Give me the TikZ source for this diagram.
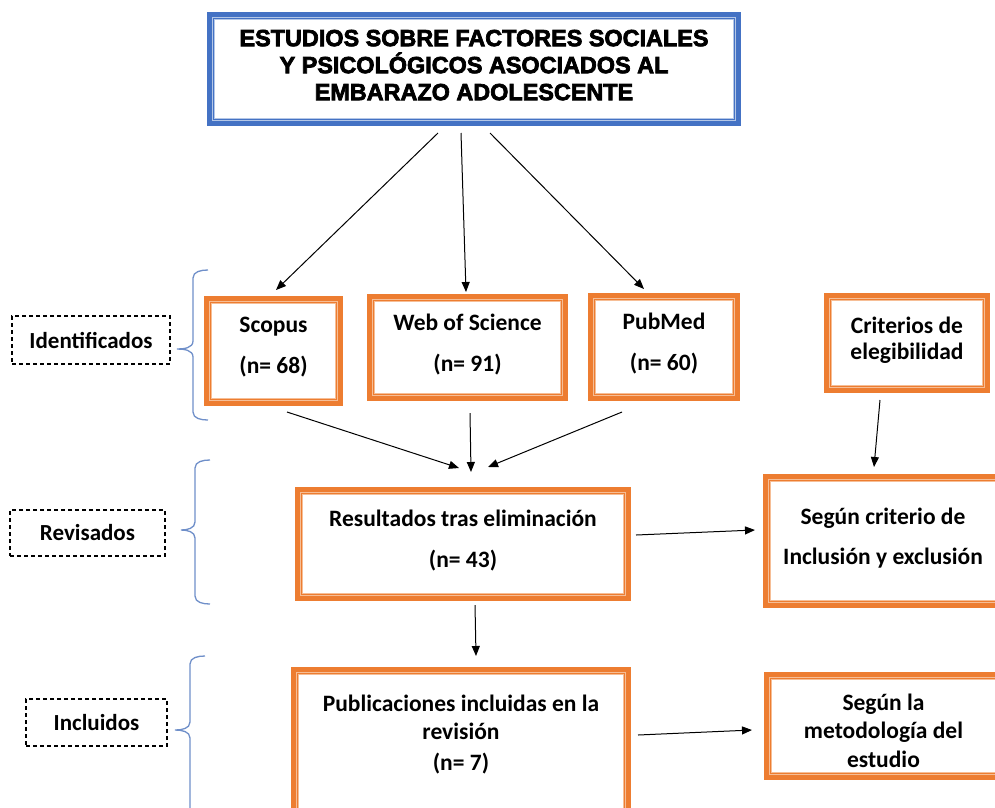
\documentclass[tikz,border=0pt]{standalone}
\usepackage{fontspec}
\setmainfont{Carlito}
\newfontfamily\titlefont[BoldFeatures={FakeBold=3}]{Liberation Sans}
\usetikzlibrary{arrows.meta,calc}
\definecolor{orangeC}{HTML}{ED7D31}
\definecolor{peachC}{HTML}{F6BE96}
\definecolor{blueC}{HTML}{4472C4}
\definecolor{lblueC}{HTML}{B4C7E7}
\definecolor{braceC}{HTML}{6F8FC9}
\newcommand\obdeco[3]{%
  \draw[#2, line width=3pt] ($(#1.north west)+(6.5,6.5)$) rectangle ($(#1.south east)+(-6.5,-6.5)$);
  \draw[#3, line width=1.1pt] ($(#1.north west)+(6.8,6.8)$) rectangle ($(#1.south east)+(-6.8,-6.8)$);}
\tikzset{
  obox/.style={draw=orangeC, line width=5pt, fill=white, align=center, inner sep=0pt,
    font=\bfseries\fontsize{23.5}{26}\selectfont},
  twoline/.style={text depth=10.5pt},
  tbox/.style={draw=blueC, line width=5pt, fill=white, align=center, inner sep=0pt,
    font=\titlefont\bfseries\fontsize{23.4}{27}\selectfont},
  lbox/.style={draw=black, line width=1.1pt, dash pattern=on 4pt off 3pt, align=center, inner sep=0pt,
    font=\bfseries\fontsize{23}{26}\selectfont},
  arr/.style={-{Triangle[length=10pt,width=8pt]}, line width=1pt, black},
  brc/.style={draw=braceC, line width=1.3pt}
}
\begin{document}
\begin{tikzpicture}[x=1pt,y=-1pt]
\useasboundingbox (0,0) rectangle (995,807);
% title
\node[tbox, minimum width=529pt, minimum height=109pt, text depth=8pt] (title) at (474,69)
  {ESTUDIOS SOBRE FACTORES SOCIALES\\Y PSICOLÓGICOS ASOCIADOS AL\\EMBARAZO ADOLESCENTE};
\obdeco{title}{lblueC}{blueC}
% sources
\node[obox, twoline, minimum width=134pt, minimum height=105pt] (scopus) at (273.5,351) {Scopus\\[15pt](n= 68)};
\obdeco{scopus}{peachC}{orangeC}
\node[obox, twoline, minimum width=196pt, minimum height=102pt] (wos) at (467.5,347.5) {Web of Science\\[15pt](n= 91)};
\obdeco{wos}{peachC}{orangeC}
\node[obox, twoline, minimum width=147pt, minimum height=103pt] (pubmed) at (664,347) {PubMed\\[15pt](n= 60)};
\obdeco{pubmed}{peachC}{orangeC}
\node[obox, twoline, minimum width=161pt, minimum height=95pt] (crit) at (907,343) {Criterios de\\elegibilidad};
\obdeco{crit}{peachC}{orangeC}
% revisados
\node[obox, twoline, minimum width=331pt, minimum height=109pt, text depth=11.5pt] (res) at (463,544) {Resultados tras eliminación\\[15pt](n= 43)};
\obdeco{res}{peachC}{orangeC}
\node[obox, twoline, minimum width=235pt, minimum height=129pt, text depth=9.5pt] (segcrit) at (883,541) {Según criterio de\\[14pt]Inclusión y exclusión};
\obdeco{segcrit}{peachC}{orangeC}
% incluidos
\node[obox, minimum width=335pt, minimum height=158pt] (pub) at (461,748.5) {Publicaciones incluidas en la\\[2pt]revisión\\[5pt](n= 7)\\[6pt]};
\obdeco{pub}{peachC}{orangeC}
\node[obox, minimum width=234pt, minimum height=103pt] (met) at (883.5,726) {\rule{0pt}{26pt}Según la\\[2pt]metodología del\\[3pt]estudio};
\obdeco{met}{peachC}{orangeC}
% stage labels
\node[lbox, minimum width=158pt, minimum height=48pt] (ident) at (91,340) {Identificados};
\node[lbox, minimum width=155pt, minimum height=46pt] (revis) at (87.5,533) {Revisados};
\node[lbox, minimum width=141pt, minimum height=47pt] (inclu) at (96.5,722.5) {Incluidos};
% braces
\draw[brc] (208,270) to[out=180,in=90] (193,278) -- (193,341) to[out=-90,in=0] (177,349)
  to[out=0,in=90] (193,357) -- (193,412) to[out=-90,in=180] (208,420);
\draw[brc] (210,460) to[out=180,in=90] (195,468) -- (195,522) to[out=-90,in=0] (181,530)
  to[out=0,in=90] (195,538) -- (195,596) to[out=-90,in=180] (210,604);
\draw[brc] (205,656) to[out=180,in=90] (190,664) -- (190,722) to[out=-90,in=0] (175,730)
  to[out=0,in=90] (190,738) -- (190,815);
% arrows
\draw[arr] ($(title.south)+(-36,7)$) -- ($(scopus.north)+(2.5,-6)$);
\draw[arr] ($(title.south)+(-13,7)$) -- ($(wos.north)+(-1.5,-2)$);
\draw[arr] ($(title.south)+(16,7)$) -- ($(pubmed.north)+(-20,-4)$);
\draw[arr] ($(scopus.south)+(13.5,6)$) -- ($(res.north)+(-4,-19)$);
\draw[arr] ($(wos.south)+(2.5,12)$) -- ($(res.north)+(8,-15)$);
\draw[arr] ($(pubmed.south)+(-42,11)$) -- ($(res.north)+(25,-20)$);
\draw[arr] ($(crit.south)+(-27,7)$) -- ($(segcrit.north)+(-9,-7)$);
\draw[arr] ($(res.east)+(5,-9)$) -- ($(segcrit.west)+(-8,-11)$);
\draw[arr] ($(res.south)+(12,4)$) -- ($(pub.north)+(15,-11)$);
\draw[arr] ($(pub.east)+(7,-13.5)$) -- ($(met.west)+(-12,4)$);
\end{tikzpicture}
\end{document}
